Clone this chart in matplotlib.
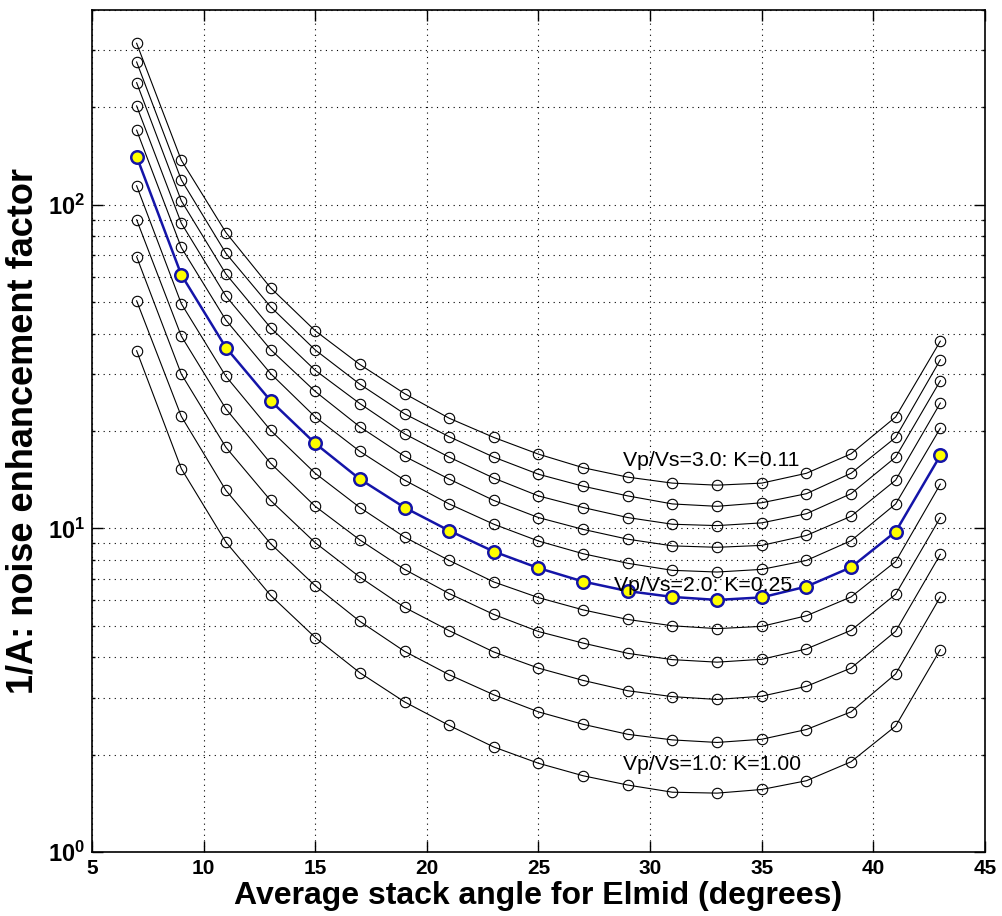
import numpy as np
import matplotlib.pyplot as plt
from matplotlib.ticker import FixedLocator, NullFormatter

plt.rcParams['font.family'] = ['Liberation Sans', 'DejaVu Sans']
plt.rcParams['mathtext.fontset'] = 'custom'
plt.rcParams['mathtext.rm'] = 'Liberation Sans'
plt.rcParams['mathtext.bf'] = 'Liberation Sans:bold'

# Average stack angle (degrees)
angles = [7, 9, 11, 13, 15, 17, 19, 21, 23, 25, 27, 29, 31, 33, 35, 37, 39, 41, 43]

# Vp/Vs ratios, top curve to bottom curve
vpvs = [3.0, 2.8, 2.6, 2.4, 2.2, 2.0, 1.8, 1.6, 1.4, 1.2, 1.0]

# 1/A noise enhancement factor for each Vp/Vs
nef_30 = [315.6, 137.4, 82.1, 55.4, 40.8, 32.1, 26.1, 21.9, 19.1, 16.96, 15.4, 14.4, 13.8, 13.6, 13.8, 14.8, 17.0, 22.1, 37.9]
nef_28 = [276.3, 119.5, 70.8, 48.4, 35.6, 27.9, 22.6, 19.2, 16.6, 14.7, 13.5, 12.6, 11.9, 11.7, 12.0, 12.8, 14.8, 19.1, 33.2]
nef_26 = [238.5, 102.9, 61.1, 41.7, 30.8, 24.3, 19.6, 16.6, 14.3, 12.6, 11.6, 10.8, 10.3, 10.2, 10.4, 11.1, 12.8, 16.6, 28.6]
nef_24 = [202.1, 87.8, 52.2, 35.7, 26.5, 20.6, 16.7, 14.2, 12.2, 10.8, 9.93, 9.26, 8.83, 8.74, 8.86, 9.51, 10.9, 14.1, 24.4]
nef_22 = [170.1, 73.8, 44.0, 30.1, 22.1, 17.3, 14.1, 11.9, 10.3, 9.14, 8.35, 7.80, 7.42, 7.33, 7.47, 7.96, 9.16, 11.9, 20.4]
nef_20 = [141.0, 60.8, 36.2, 24.8, 18.3, 14.2, 11.6, 9.84, 8.48, 7.54, 6.85, 6.40, 6.14, 6.01, 6.12, 6.61, 7.58, 9.77, 16.8]
nef_18 = [114.5, 49.5, 29.5, 20.1, 14.8, 11.6, 9.40, 7.96, 6.83, 6.11, 5.60, 5.23, 5.00, 4.90, 4.98, 5.37, 6.14, 7.90, 13.7]
nef_16 = [89.9, 39.3, 23.4, 15.9, 11.7, 9.21, 7.47, 6.29, 5.42, 4.80, 4.42, 4.11, 3.93, 3.86, 3.94, 4.24, 4.84, 6.26, 10.8]
nef_14 = [69.1, 30.0, 17.8, 12.2, 9.03, 7.07, 5.70, 4.83, 4.15, 3.70, 3.39, 3.15, 3.02, 2.96, 3.03, 3.25, 3.70, 4.81, 8.31]
nef_12 = [50.5, 22.2, 13.1, 8.97, 6.65, 5.16, 4.17, 3.53, 3.06, 2.71, 2.48, 2.31, 2.22, 2.18, 2.23, 2.39, 2.71, 3.55, 6.14]
nef_10 = [35.4, 15.3, 9.07, 6.21, 4.60, 3.58, 2.91, 2.46, 2.11, 1.88, 1.72, 1.61, 1.53, 1.52, 1.56, 1.66, 1.90, 2.45, 4.22]

curves = [nef_30, nef_28, nef_26, nef_24, nef_22, nef_20, nef_18, nef_16, nef_14, nef_12, nef_10]

# labelled curves: (text, x, y)
labels = [
    ('Vp/Vs=3.0: K=0.11', 28.8, 16.2),
    ('Vp/Vs=2.0: K=0.25', 28.4, 6.67),
    ('Vp/Vs=1.0: K=1.00', 28.8, 1.86),
]

fig = plt.figure(figsize=(10.02, 9.16), dpi=100)
ax = fig.add_axes([0.0918, 0.0699, 0.8912, 0.9192])

for v, nef in zip(vpvs, curves):
    if v == 2.0:
        continue
    ax.plot(angles, nef, color='black', lw=0.8, marker='o', ms=7.5,
            mfc='none', mec='black', mew=0.8)

# highlighted Vp/Vs = 2.0 curve
ax.plot(angles, nef_20, color='#1414a8', lw=1.8, marker='o', ms=9,
        mfc='yellow', mec='#1414a8', mew=1.8, zorder=3)

for txt, x, y in labels:
    ax.text(x, y, txt, fontsize=15.3, ha='left', va='center', zorder=4)

ax.set_yscale('log')
ax.set_xlim(5, 45)
ax.set_ylim(1, 400)
ax.set_xticks(range(5, 46, 5))
ax.set_xticklabels([str(t) for t in range(5, 46, 5)])
ax.yaxis.set_major_locator(FixedLocator([1, 10, 100]))
ax.set_yticklabels([r'$\mathbf{10^{0}}$', r'$\mathbf{10^{1}}$', r'$\mathbf{10^{2}}$'])
minor = [m * 10 ** d for d in range(0, 3) for m in range(2, 10)]
ax.yaxis.set_minor_locator(FixedLocator([m for m in minor if m <= 400]))
ax.yaxis.set_minor_formatter(NullFormatter())
ax.xaxis.set_minor_locator(FixedLocator([]))

dots = (0, (1, 4))
ax.grid(True, which='major', axis='both', color='black', lw=0.8, linestyle=dots)
ax.grid(True, which='minor', axis='y', color='black', lw=0.8, linestyle=dots)

ax.tick_params(which='both', direction='in', top=True, right=True, width=1.0)
ax.tick_params(which='major', length=8, pad=5)
ax.tick_params(axis='x', which='major', labelsize=15)
ax.tick_params(axis='y', which='major', labelsize=17)
for lab in ax.get_xticklabels():
    lab.set_fontweight('bold')
for s in ax.spines.values():
    s.set_linewidth(1.2)

ax.set_xlabel('Average stack angle for Elmid (degrees)', fontsize=23, fontweight='bold', labelpad=2)
ax.set_ylabel('1/A: noise enhancement factor', fontsize=26, fontweight='bold')
ax.yaxis.set_label_coords(-0.058, 0.5)

fig.savefig('out.png', dpi=100)
